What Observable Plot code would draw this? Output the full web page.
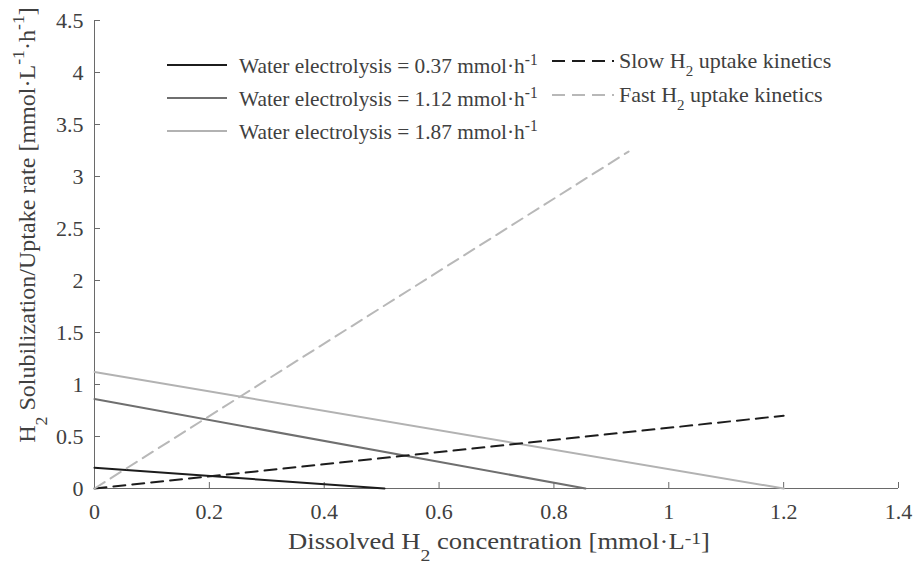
<!DOCTYPE html>
<html>
<head>
<meta charset="utf-8">
<script src="https://cdn.jsdelivr.net/npm/d3@7"></script>
<script src="https://cdn.jsdelivr.net/npm/@observablehq/plot@0.6"></script>
<style>
  html, body { margin: 0; padding: 0; background: #fff; }
  #wrap { position: relative; width: 917px; height: 568px; }
</style>
</head>
<body>
<div id="wrap"></div>
<script>
// ---- data ----
const electrolysisRates = ["0.37", "1.12", "1.87"];          // mmol·h-1
const solubStartY = [0.20, 0.86, 1.12];                      // rate at zero dissolved H2
const solubEndX = [0.505, 0.855, 1.20];                      // dissolved H2 where rate reaches 0
const solubColors = ["#1c1c1c", "#6f6f6f", "#b2b2b2"];
const uptakeNames = ["Slow", "Fast"];
const uptakeEndX = [1.20, 0.93];
const uptakeEndY = [0.70, 3.24];
const uptakeColors = ["#1c1c1c", "#b8b8b8"];
const xTicks = [0, 0.2, 0.4, 0.6, 0.8, 1, 1.2, 1.4];
const yTicks = [0, 0.5, 1, 1.5, 2, 2.5, 3, 3.5, 4, 4.5];

// build tables
const solubRows = electrolysisRates.flatMap((r, i) => [
  {series: r, x: 0, y: solubStartY[i]},
  {series: r, x: solubEndX[i], y: 0}
]);
const uptakeRows = uptakeNames.flatMap((n, i) => [
  {series: n, x: 0, y: 0},
  {series: n, x: uptakeEndX[i], y: uptakeEndY[i]}
]);

const FONT = "Liberation Serif, Times New Roman, serif";
const axisColor = "#6a6a6a";
const textColor = "#404040";
const fmt = d => String(d);
const DASH = "12,7";

const chart = Plot.plot({
  width: 917, height: 568,
  marginLeft: 94, marginRight: 19, marginTop: 20, marginBottom: 80,
  x: {domain: [0, 1.4]},
  y: {domain: [0, 4.5]},
  style: {fontFamily: FONT, fontSize: "22px", color: textColor, background: "white", overflow: "visible"},
  marks: [
    Plot.ruleX([0], {stroke: axisColor, strokeWidth: 1}),
    Plot.ruleY([0], {stroke: axisColor, strokeWidth: 1}),
    Plot.axisX({ticks: xTicks, tickFormat: fmt, tickSize: -6, tickPadding: 21, stroke: axisColor, label: null}),
    Plot.axisY({ticks: yTicks, tickFormat: fmt, tickSize: -6, tickPadding: 17, stroke: axisColor, label: null}),
    Plot.line(solubRows, {x: "x", y: "y", z: "series", stroke: d => solubColors[electrolysisRates.indexOf(d.series)], strokeWidth: 2}),
    Plot.line(uptakeRows, {x: "x", y: "y", z: "series", stroke: d => uptakeColors[uptakeNames.indexOf(d.series)], strokeWidth: 2, strokeDasharray: DASH})
  ]
});

const wrap = document.getElementById("wrap");
wrap.appendChild(chart);
const svg = d3.select(chart);

// text helper: parts = [[string, kind]], kind: "", "sub", "sup"
function addText(x, y, parts, o) {
  const g = svg.append("g").attr("transform", `translate(${x},${y})${o.rotate ? ` rotate(${o.rotate})` : ""}`);
  const t = g.append("text")
    .attr("text-anchor", o.anchor || "start")
    .attr("font-family", FONT)
    .attr("font-size", o.size)
    .attr("fill", textColor);
  let cur = 0;
  for (const [s, kind] of parts) {
    const target = kind === "sub" ? o.subDy : kind === "sup" ? o.supDy : 0;
    const ts = t.append("tspan").attr("dy", target - cur).text(s);
    if (kind) ts.attr("font-size", o.smallSize);
    cur = target;
  }
  if (o.width) {
    const w = t.node().getComputedTextLength();
    t.attr("transform", `scale(${o.width / w},1)`);
  }
  return t;
}

// axis titles
addText(499, 549, [["Dissolved H", ""], ["2", "sub"], [" concentration [mmol·L", ""], ["-1", "sup"], ["]", ""]],
  {size: 23, smallSize: 17, subDy: 12, supDy: -5, anchor: "middle", width: 422});

addText(35, 225, [["H", ""], ["2", "sub"], [" Solubilization/Uptake rate [mmol·L", ""], ["-1", "sup"], ["·h", ""], ["-1", "sup"], ["]", ""]],
  {size: 23, smallSize: 17, subDy: 12, supDy: -11, anchor: "middle", width: 436, rotate: -90});

// legend
function swatch(x1, x2, y, color, dash) {
  const l = svg.append("line")
    .attr("x1", x1).attr("x2", x2).attr("y1", y).attr("y2", y)
    .attr("stroke", color).attr("stroke-width", 2);
  if (dash) l.attr("stroke-dasharray", dash);
}
const rowLineY = [65, 98, 131];
electrolysisRates.forEach((r, i) => {
  swatch(167, 227, rowLineY[i], solubColors[i], null);
  addText(239, rowLineY[i] + 8, [[`Water electrolysis = ${r} mmol·h`, ""], ["-1", "sup"]],
    {size: 22, smallSize: 16, supDy: -8, width: 299});
});
const rowLineY2 = [61, 95];
uptakeNames.forEach((n, i) => {
  swatch(552, 614, rowLineY2[i], uptakeColors[i], "13,7");
  addText(619, rowLineY2[i] + 7, [[`${n} H`, ""], ["2", "sub"], [" uptake kinetics", ""]],
    {size: 22, smallSize: 15, subDy: 8});
});
</script>
</body>
</html>
